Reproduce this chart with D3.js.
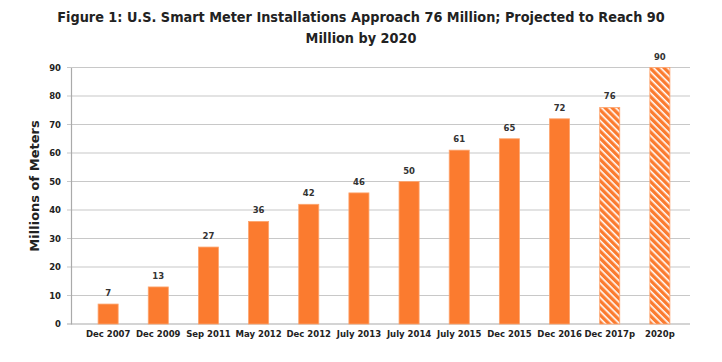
<!DOCTYPE html>
<html>
<head>
<meta charset="utf-8">
<script src="https://cdn.jsdelivr.net/npm/d3@7"></script>
<style>
  body { margin: 0; background: #fff; }
  text { font-family: "DejaVu Sans Condensed", "DejaVu Sans", sans-serif; }
</style>
</head>
<body>
<svg id="chart" width="722" height="362"></svg>
<script>
// data
var periods = ["Dec 2007", "Dec 2009", "Sep 2011", "May 2012", "Dec 2012", "July 2013",
               "July 2014", "July 2015", "Dec 2015", "Dec 2016", "Dec 2017p", "2020p"];
var meters = [7, 13, 27, 36, 42, 46, 50, 61, 65, 72, 76, 90];
var projected = ["Dec 2017p", "2020p"];
var yTicks = [0, 10, 20, 30, 40, 50, 60, 70, 80, 90];

var orange = "#FB7B2F";
var svg = d3.select("#chart");

// hatch for projections, stripes running top-left to bottom-right
var defs = svg.append("defs");
var pat = defs.append("pattern")
    .attr("id", "hatch")
    .attr("patternUnits", "userSpaceOnUse")
    .attr("width", 5).attr("height", 5)
    .attr("patternTransform", "rotate(45)");
pat.append("rect").attr("width", 5).attr("height", 5).attr("fill", orange);
pat.append("rect").attr("x", 0).attr("y", 0).attr("width", 5).attr("height", 1.6).attr("fill", "#fff");

var x = d3.scaleBand().domain(periods).range([68, 700]).padding(0.6);
var y = d3.scaleLinear().domain([0, 90]).range([324, 67.5]);

// title
svg.append("text")
    .attr("x", 361).attr("y", 22)
    .attr("text-anchor", "middle")
    .style("font-size", "14.3px").style("font-weight", "bold").attr("fill", "#222")
    .text("Figure 1: U.S. Smart Meter Installations Approach 76 Million; Projected to Reach 90");
svg.append("text")
    .attr("x", 361).attr("y", 43)
    .attr("text-anchor", "middle")
    .style("font-size", "14.3px").style("font-weight", "bold").attr("fill", "#222")
    .text("Million by 2020");

// gridlines
svg.append("g").selectAll("line")
    .data(yTicks)
    .join("line")
    .attr("x1", 67).attr("x2", 690)
    .attr("y1", function (d) { return y(d); })
    .attr("y2", function (d) { return y(d); })
    .attr("stroke", function (d) { return d === 0 ? "#aaa" : "#c8c8c8"; })
    .attr("stroke-width", 1.2);

// y axis
var yAxis = svg.append("g")
    .attr("transform", "translate(71,0)")
    .call(d3.axisLeft(y).tickValues(yTicks).tickSize(0).tickPadding(10));
yAxis.select(".domain").attr("stroke", "#aaa").attr("stroke-width", 1.2);
yAxis.selectAll("text").style("font-size", "8.5px").style("font-weight", "bold")
    .attr("fill", "#222").style("font-family", "'DejaVu Sans', sans-serif");

svg.append("text")
    .attr("transform", "translate(39,186) rotate(-90)")
    .attr("text-anchor", "middle")
    .style("font-size", "13px").style("font-weight", "bold").attr("fill", "#222")
    .style("font-family", "'DejaVu Sans', sans-serif")
    .text("Millions of Meters");

// x axis labels
var xAxis = svg.append("g")
    .attr("transform", "translate(0,324)")
    .call(d3.axisBottom(x).tickSize(0).tickPadding(7));
xAxis.select(".domain").remove();
xAxis.selectAll("text").style("font-size", "8.5px").style("font-weight", "bold")
    .attr("fill", "#222").style("font-family", "'DejaVu Sans', sans-serif");

// bars
var data = periods.map(function (p, i) { return { period: p, value: meters[i] }; });
svg.append("g").selectAll("rect")
    .data(data)
    .join("rect")
    .attr("x", function (d) { return x(d.period); })
    .attr("y", function (d) { return y(d.value); })
    .attr("width", x.bandwidth())
    .attr("height", function (d) { return y(0) - y(d.value); })
    .attr("fill", function (d) { return projected.indexOf(d.period) >= 0 ? "url(#hatch)" : orange; })
    .attr("stroke", "#FDA56F").attr("stroke-width", 0.8);

// value labels
svg.append("g").selectAll("text")
    .data(data)
    .join("text")
    .attr("x", function (d) { return x(d.period) + x.bandwidth() / 2; })
    .attr("y", function (d) { return y(d.value) - 8; })
    .attr("text-anchor", "middle")
    .style("font-size", "8.5px").style("font-weight", "bold").attr("fill", "#333")
    .style("font-family", "'DejaVu Sans', sans-serif")
    .text(function (d) { return d.value; });
</script>
</body>
</html>
